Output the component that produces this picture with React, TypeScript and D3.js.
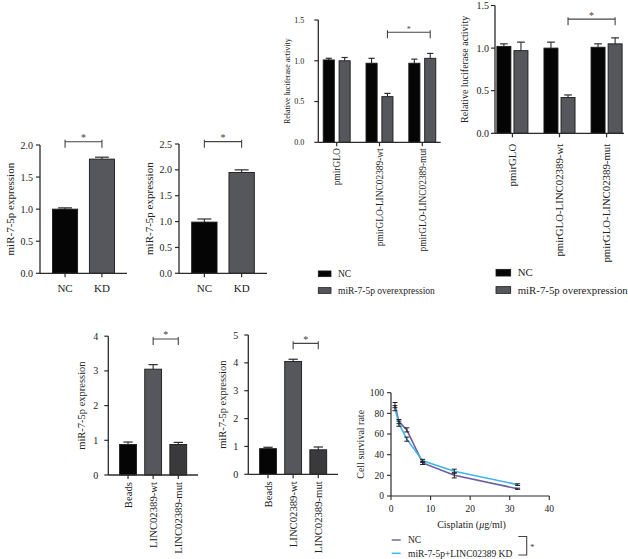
import React from "react";
import * as d3 from "d3";

const FONT = "'Liberation Serif', 'Times New Roman', serif";
const AXIS = "#2b2b2b";
const BLACK = "#050505";
const GRAY = "#55575c";
const DARK = "#3a3a3c";

// ---- Panel A : miR-7-5p expression after knockdown ----
const kdGroups = ["NC", "KD"];
const a1Means = [1.0, 1.78];
const a1Errs = [0.02, 0.03];
const a1Ticks = [0, 0.5, 1.0, 1.5, 2.0];
const a2Means = [0.99, 1.95];
const a2Errs = [0.06, 0.05];
const a2Ticks = [0, 0.5, 1.0, 1.5, 2.0, 2.5];

// ---- Panel B : luciferase ----
const lucCategories = ["pmirGLO", "pmirGLO-LINC02389-wt", "pmirGLO-LINC02389-mut"];
const lucSeries = ["NC", "miR-7-5p overexpression"];
const b1NC = [1.01, 0.97, 0.97];
const b1NCErr = [0.02, 0.06, 0.05];
const b1Mir = [1.0, 0.56, 1.03];
const b1MirErr = [0.04, 0.04, 0.06];
const b2NC = [1.02, 1.0, 1.01];
const b2NCErr = [0.03, 0.07, 0.04];
const b2Mir = [0.97, 0.42, 1.05];
const b2MirErr = [0.1, 0.03, 0.07];
const lucTicks = [0, 0.5, 1.0, 1.5];

// ---- Panel C : pull-down ----
const pullCategories = ["Beads", "LINC02389-wt", "LINC02389-mut"];
const c1Means = [0.88, 3.05, 0.88];
const c1Errs = [0.07, 0.13, 0.06];
const c1Ticks = [0, 1, 2, 3, 4];
const c2Means = [0.92, 4.05, 0.88];
const c2Errs = [0.05, 0.08, 0.1];
const c2Ticks = [0, 1, 2, 3, 4, 5];

// ---- Panel D : cisplatin survival ----
const doses = [1, 2, 4, 8, 16, 32];
const ncSurvival = [88, 72, 64, 32, 20, 7];
const ncSurvivalErr = [2.5, 2, 2, 1.5, 2.5, 0.6];
const kdSurvival = [85, 70, 55, 34, 24, 11];
const kdSurvivalErr = [2.5, 2.5, 2, 1.5, 2, 0.8];
const dXTicks = [0, 10, 20, 30, 40];
const dYTicks = [0, 20, 40, 60, 80, 100];
const dSeries = ["NC", "miR-7-5p+LINC02389 KD"];

type BarProps = {
  categories: string[];
  values: number[][];
  errs: number[][];
  colors: (si: number, ci: number) => string;
  x0: number; x1: number; y0: number; yTop: number; yMax: number;
  ticks: number[]; fmt: (v: number) => string;
  padIn: number; padOut: number; subPad?: number;
  tickFont: number; tickGap: number;
  labelFont: number; rotate: boolean; labelOffset: number;
  yLabel: string; yLabelX: number; yLabelFont: number;
  bracket: { from: [number, number]; to: [number, number]; at: number };
  starFont: number;
};

function BarPanel(p: BarProps) {
  const y = d3.scaleLinear().domain([0, p.yMax]).range([p.y0, p.yTop]);
  const xg = d3.scaleBand<string>().domain(p.categories).range([p.x0, p.x1])
    .paddingInner(p.padIn).paddingOuter(p.padOut);
  const nS = p.values.length;
  const xs = d3.scaleBand<string>().domain(d3.range(nS).map(String))
    .range([0, xg.bandwidth()]).paddingInner(p.subPad ?? 0);
  const bw = xs.bandwidth();
  const bx = (ci: number, si: number) => (xg(p.categories[ci]) as number) + (xs(String(si)) as number);
  const bc = (ci: number, si: number) => bx(ci, si) + bw / 2;
  const gc = (ci: number) => (xg(p.categories[ci]) as number) + xg.bandwidth() / 2;
  const cap = bw * 0.55;
  const bY = y(p.bracket.at);
  const bx1 = bc(p.bracket.from[0], p.bracket.from[1]);
  const bx2 = bc(p.bracket.to[0], p.bracket.to[1]);
  return (
    <g fontFamily={FONT} fill="#222">
      {p.values.map((vals, si) =>
        vals.map((v, ci) => {
          const e = p.errs[si][ci];
          const c = bc(ci, si);
          return (
            <g key={`${si}-${ci}`}>
              <line x1={c} x2={c} y1={y(v)} y2={y(v + e)} stroke={AXIS} strokeWidth={1.1} />
              <line x1={c - cap / 2} x2={c + cap / 2} y1={y(v + e)} y2={y(v + e)} stroke={AXIS} strokeWidth={1.2} />
              <rect x={bx(ci, si)} y={y(v)} width={bw} height={p.y0 - y(v)}
                fill={p.colors(si, ci)} stroke="#1a1a1a" strokeWidth={0.9} />
            </g>
          );
        })
      )}
      {/* y axis */}
      <line x1={p.x0} x2={p.x0} y1={p.y0} y2={y(p.yMax)} stroke={AXIS} strokeWidth={1.3} />
      {p.ticks.map((t) => (
        <g key={t}>
          <line x1={p.x0 - 4} x2={p.x0} y1={y(t)} y2={y(t)} stroke={AXIS} strokeWidth={1.2} />
          <text x={p.x0 - p.tickGap} y={y(t)} dy="0.35em" textAnchor="end" fontSize={p.tickFont}>
            {p.fmt(t)}
          </text>
        </g>
      ))}
      {/* x axis */}
      <line x1={p.x0} x2={p.x1} y1={p.y0} y2={p.y0} stroke={AXIS} strokeWidth={1.3} />
      {p.categories.map((c, ci) => (
        <g key={c}>
          <line x1={gc(ci)} x2={gc(ci)} y1={p.y0} y2={p.y0 + 4} stroke={AXIS} strokeWidth={1.2} />
          {p.rotate ? (
            <text transform={`translate(${gc(ci)},${p.y0 + p.labelOffset}) rotate(-90)`} dy="0.35em"
              textAnchor="end" fontSize={p.labelFont}>{c}</text>
          ) : (
            <text x={gc(ci)} y={p.y0 + p.labelOffset} textAnchor="middle" fontSize={p.labelFont}>{c}</text>
          )}
        </g>
      ))}
      {/* y label */}
      <text transform={`translate(${p.yLabelX},${(p.y0 + y(p.yMax)) / 2}) rotate(-90)`} dy="0.35em"
        textAnchor="middle" fontSize={p.yLabelFont}>{p.yLabel}</text>
      {/* significance bracket */}
      <path d={`M${bx1},${bY + 6}V${bY - 2}M${bx1},${bY}H${bx2}M${bx2},${bY + 6}V${bY - 2}`}
        stroke="#444" strokeWidth={1.1} fill="none" />
      <text x={(bx1 + bx2) / 2} y={bY - 0.5} textAnchor="middle" fontSize={p.starFont} fill="#444">*</text>
    </g>
  );
}

function Legend(props: { x: number; y: number; gap: number; sw: number; sh: number; font: number; names: string[]; colors: string[] }) {
  return (
    <g fontFamily={FONT} fill="#222">
      {props.names.map((n, i) => (
        <g key={n}>
          <rect x={props.x} y={props.y + i * props.gap - props.sh / 2} width={props.sw} height={props.sh}
            fill={props.colors[i]} stroke="#1a1a1a" strokeWidth={0.8} />
          <text x={props.x + props.sw + 7} y={props.y + i * props.gap} dy="0.35em" fontSize={props.font}>{n}</text>
        </g>
      ))}
    </g>
  );
}

function SurvivalPanel() {
  const x = d3.scaleLinear().domain([0, 40]).range([391, 549.3]);
  const y = d3.scaleLinear().domain([0, 100]).range([496, 392.7]);
  const line = d3.line<number>().x((d, i) => x(doses[i])).y((d) => y(d));
  const series = [
    { name: dSeries[0], vals: ncSurvival, errs: ncSurvivalErr, color: "#6e5a9e" },
    { name: dSeries[1], vals: kdSurvival, errs: kdSurvivalErr, color: "#3db5ef" },
  ];
  return (
    <g fontFamily={FONT} fill="#222">
      {series.map((s) => (
        <path key={s.name} d={line(s.vals) as string} fill="none" stroke={s.color} strokeWidth={1.6} />
      ))}
      {series.map((s) =>
        s.vals.map((v, i) => {
          const cx = x(doses[i]);
          return (
            <path key={s.name + i}
              d={`M${cx},${y(v - s.errs[i])}V${y(v + s.errs[i])}M${cx - 2.5},${y(v - s.errs[i])}H${cx + 2.5}M${cx - 2.5},${y(v + s.errs[i])}H${cx + 2.5}`}
              stroke="#222" strokeWidth={1} fill="none" />
          );
        })
      )}
      <line x1={x(0)} x2={x(0)} y1={y(0)} y2={y(100)} stroke={AXIS} strokeWidth={1.2} />
      <line x1={x(0)} x2={x(40)} y1={y(0)} y2={y(0)} stroke={AXIS} strokeWidth={1.2} />
      {dYTicks.map((t) => (
        <g key={t}>
          <line x1={x(0) - 4} x2={x(0)} y1={y(t)} y2={y(t)} stroke={AXIS} strokeWidth={1.1} />
          <text x={x(0) - 7} y={y(t)} dy="0.35em" textAnchor="end" fontSize={9.5}>{t}</text>
        </g>
      ))}
      {dXTicks.map((t) => (
        <g key={t}>
          <line x1={x(t)} x2={x(t)} y1={y(0)} y2={y(0) + 4} stroke={AXIS} strokeWidth={1.1} />
          <text x={x(t)} y={y(0) + 15.5} textAnchor="middle" fontSize={9.5}>{t}</text>
        </g>
      ))}
      <text x={471.5} y={527.5} textAnchor="middle" fontSize={10}>Cisplatin (<tspan fontStyle="italic">μ</tspan>g/ml)</text>
      <text transform={`translate(360,${(y(0) + y(100)) / 2}) rotate(-90)`} dy="0.35em" textAnchor="middle" fontSize={10}>Cell survival rate</text>
      {series.map((s, i) => (
        <g key={s.name}>
          <line x1={391.7} x2={400.7} y1={540 + i * 13.3} y2={540 + i * 13.3} stroke={s.color} strokeWidth={1.4} />
          <text x={408} y={540 + i * 13.3} dy="0.35em" fontSize={9.5}>{s.name}</text>
        </g>
      ))}
      <path d="M518.3,536.5H526.7V555H518.3" stroke="#444" strokeWidth={1.1} fill="none" />
      <text x={530} y={550} fontSize={9} fill="#444">*</text>
    </g>
  );
}

export default function App() {
  const fmt1 = (v: number) => v.toFixed(1);
  const fmt0 = (v: number) => String(v);
  const abColor = (si: number, ci: number) => (ci === 0 ? BLACK : GRAY);
  const lucColor = (si: number) => (si === 0 ? BLACK : GRAY);
  const pullColors = [BLACK, GRAY, DARK];
  return (
    <svg width={628} height={559} style={{ position: "absolute", left: 0, top: 0, background: "#fff" }}>
      <rect width={628} height={559} fill="#fff" />
      <BarPanel categories={kdGroups} values={[a1Means]} errs={[a1Errs]} colors={abColor}
        x0={40} x1={127} y0={273.3} yTop={145} yMax={2} ticks={a1Ticks} fmt={fmt1}
        padIn={0.32} padOut={0.34} tickFont={10} tickGap={7} labelFont={11} rotate={false} labelOffset={18.5}
        yLabel="miR-7-5p expression" yLabelX={10} yLabelFont={11}
        bracket={{ from: [0, 0], to: [1, 0], at: 2.05 }} starFont={10} />
      <BarPanel categories={kdGroups} values={[a2Means]} errs={[a2Errs]} colors={abColor}
        x0={179} x1={267} y0={273.3} yTop={144} yMax={2.5} ticks={a2Ticks} fmt={fmt1}
        padIn={0.32} padOut={0.34} tickFont={10} tickGap={7} labelFont={11} rotate={false} labelOffset={18.5}
        yLabel="miR-7-5p expression" yLabelX={149} yLabelFont={11}
        bracket={{ from: [0, 0], to: [1, 0], at: 2.545 }} starFont={10} />
      <BarPanel categories={lucCategories} values={[b1NC, b1Mir]} errs={[b1NCErr, b1MirErr]} colors={lucColor}
        x0={318.3} x1={440.7} y0={142.3} yTop={20} yMax={1.5} ticks={lucTicks} fmt={fmt1}
        padIn={0.37} padOut={0.115} subPad={0.3} tickFont={8} tickGap={14} labelFont={9.4} rotate={true} labelOffset={6}
        yLabel="Relative luciferase activity" yLabelX={287} yLabelFont={8}
        bracket={{ from: [1, 1], to: [2, 1], at: 1.35 }} starFont={8} />
      <Legend x={318.3} y={273.8} gap={16.7} sw={12.7} sh={5.7} font={9.5} names={lucSeries} colors={[BLACK, GRAY]} />
      <BarPanel categories={lucCategories} values={[b2NC, b2Mir]} errs={[b2NCErr, b2MirErr]} colors={lucColor}
        x0={495} x1={624} y0={133.3} yTop={5.5} yMax={1.5} ticks={lucTicks} fmt={fmt1}
        padIn={0.34} padOut={0.04} subPad={0.18} tickFont={10} tickGap={6} labelFont={10.8} rotate={true} labelOffset={10.5}
        yLabel="Relative luciferase activity" yLabelX={464} yLabelFont={10}
        bracket={{ from: [1, 1], to: [2, 1], at: 1.34 }} starFont={10} />
      <Legend x={496} y={272.7} gap={17.3} sw={14.7} sh={6.7} font={10.8} names={lucSeries} colors={[BLACK, GRAY]} />
      <BarPanel categories={pullCategories} values={[c1Means]} errs={[c1Errs]} colors={(si, ci) => pullColors[ci]}
        x0={108.3} x1={198} y0={475} yTop={336.2} yMax={4} ticks={c1Ticks} fmt={fmt0}
        padIn={0.33} padOut={0.45} tickFont={10} tickGap={10} labelFont={10.7} rotate={true} labelOffset={7}
        yLabel="miR-7-5p expression" yLabelX={81} yLabelFont={10.5}
        bracket={{ from: [1, 0], to: [2, 0], at: 3.92 }} starFont={10} />
      <BarPanel categories={pullCategories} values={[c2Means]} errs={[c2Errs]} colors={(si, ci) => pullColors[ci]}
        x0={248.3} x1={338} y0={474.3} yTop={335} yMax={5} ticks={c2Ticks} fmt={fmt0}
        padIn={0.33} padOut={0.45} tickFont={10} tickGap={10} labelFont={10.7} rotate={true} labelOffset={7}
        yLabel="miR-7-5p expression" yLabelX={222} yLabelFont={10.5}
        bracket={{ from: [1, 0], to: [2, 0], at: 4.7 }} starFont={10} />
      <SurvivalPanel />
    </svg>
  );
}
